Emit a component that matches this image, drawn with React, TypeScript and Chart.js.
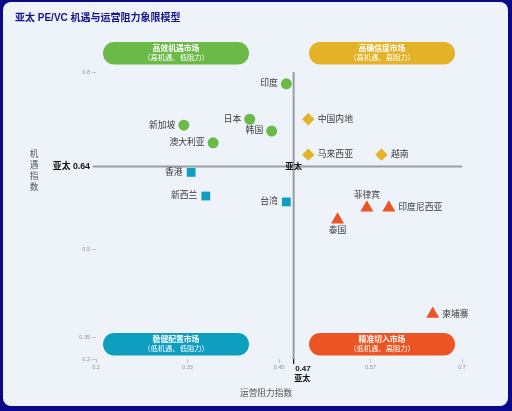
import React, { useEffect, useRef } from 'react';
import { Chart, registerables } from 'chart.js';

Chart.register(...registerables);

const FONT = "'Liberation Sans', 'Noto Sans CJK SC', sans-serif";

// ---- Data ----
const chartTitle = '亚太 PE/VC 机遇与运营阻力象限模型';
const xAxisTitle = '运营阻力指数';
const yAxisTitle = '机遇指数';
const benchmarkName = '亚太';

const highOppLowResNames = ['印度', '日本', '韩国', '新加坡', '澳大利亚'];
const highOppLowResX = [0.46, 0.41, 0.44, 0.32, 0.36];
const highOppLowResY = [0.78, 0.72, 0.7, 0.71, 0.68];

const lowOppLowResNames = ['香港', '新西兰', '台湾'];
const lowOppLowResX = [0.33, 0.35, 0.46];
const lowOppLowResY = [0.63, 0.59, 0.58];

const highOppHighResNames = ['中国内地', '马来西亚', '越南'];
const highOppHighResX = [0.49, 0.49, 0.59];
const highOppHighResY = [0.72, 0.66, 0.66];

const lowOppHighResNames = ['菲律宾', '印度尼西亚', '泰国', '柬埔寨'];
const lowOppHighResX = [0.57, 0.6, 0.53, 0.66];
const lowOppHighResY = [0.57, 0.57, 0.55, 0.39];

const benchmarkX = 0.47;
const benchmarkY = 0.64;

const xTickValues = [0.2, 0.325, 0.45, 0.575, 0.7];
const xTickLabels = ['0.2', '0.33', '0.45', '0.57', '0.7'];
const yTickValues = [0.314, 0.35, 0.5, 0.64, 0.8];
const yTickLabels = ['0.2', '0.35', '0.5', '亚太 0.64', '0.8'];

const quadrantTitles = ['高效机遇市场', '高确信度市场', '稳健配置市场', '精准切入市场'];
const quadrantSubtitles = ['（高机遇、低阻力）', '（高机遇、高阻力）', '（低机遇、低阻力）', '（低机遇、高阻力）'];

// ---- Styles ----
const GREEN = '#6bb946';
const YELLOW = '#e3b226';
const TEAL = '#0d9ec0';
const ORANGE = '#ec5424';
const quadrantColors = [GREEN, YELLOW, TEAL, ORANGE];
const labelSideOverride: Record<string, string> = { 菲律宾: 'top', 泰国: 'bottom' };

const toPoints = (xs: number[], ys: number[]) => xs.map((x, i) => ({ x, y: ys[i] }));

function roundRect(ctx: CanvasRenderingContext2D, x: number, y: number, w: number, h: number, r: number) {
  ctx.beginPath();
  ctx.moveTo(x + r, y);
  ctx.lineTo(x + w - r, y);
  ctx.arc(x + w - r, y + r, r, -Math.PI / 2, Math.PI / 2);
  ctx.lineTo(x + r, y + h);
  ctx.arc(x + r, y + r, r, Math.PI / 2, (3 * Math.PI) / 2);
  ctx.closePath();
}

const quadrantPlugin = {
  id: 'quadrant',
  beforeDatasetsDraw(chart: any) {
    const { ctx, chartArea: a, scales } = chart;
    const px = scales.x.getPixelForValue(benchmarkX);
    const py = scales.y.getPixelForValue(benchmarkY);
    ctx.save();
    ctx.strokeStyle = '#9a9ca4';
    ctx.lineWidth = 2;
    ctx.beginPath();
    ctx.moveTo(a.left - 3, py);
    ctx.lineTo(a.right, py);
    ctx.stroke();
    ctx.beginPath();
    ctx.moveTo(px, a.top);
    ctx.lineTo(px, a.bottom);
    ctx.stroke();
    ctx.strokeStyle = '#111';
    ctx.lineWidth = 1.2;
    ctx.beginPath();
    ctx.moveTo(px, a.bottom);
    ctx.lineTo(px, a.bottom + 5);
    ctx.stroke();
    ctx.restore();
  },
  afterDatasetsDraw(chart: any) {
    const { ctx, chartArea: a, scales } = chart;
    const px = scales.x.getPixelForValue(benchmarkX);
    const py = scales.y.getPixelForValue(benchmarkY);
    ctx.save();

    // point labels
    ctx.font = `8.8px ${FONT}`;
    ctx.fillStyle = '#3a3a3a';
    ctx.textBaseline = 'middle';
    chart.data.datasets.forEach((ds: any, i: number) => {
      const meta = chart.getDatasetMeta(i);
      meta.data.forEach((el: any, j: number) => {
        const name = ds.names[j];
        const side = labelSideOverride[name] || ds.labelSide;
        if (side === 'left') {
          ctx.textAlign = 'right';
          ctx.fillText(name, el.x - 8.5, el.y);
        } else if (side === 'right') {
          ctx.textAlign = 'left';
          ctx.fillText(name, el.x + 9.5, el.y);
        } else if (side === 'top') {
          ctx.textAlign = 'center';
          ctx.fillText(name, el.x, el.y - 12.5);
        } else {
          ctx.textAlign = 'center';
          ctx.fillText(name, el.x, el.y + 10.6);
        }
      });
    });

    // quadrant pills
    const gap = 60;
    const inset = 7;
    const w = (a.right - a.left - gap) / 2 - inset;
    const h = 22.5;
    const xs = [a.left + inset, a.right - inset - w];
    const ys = [a.top - 30, a.bottom - 26];
    for (let q = 0; q < 4; q++) {
      const bx = xs[q % 2];
      const by = ys[Math.floor(q / 2)];
      ctx.fillStyle = quadrantColors[q];
      roundRect(ctx, bx, by, w, h, h / 2);
      ctx.fill();
      ctx.fillStyle = '#ffffff';
      ctx.textAlign = 'center';
      ctx.textBaseline = 'middle';
      ctx.font = `bold 7.8px ${FONT}`;
      ctx.fillText(quadrantTitles[q], bx + w / 2, by + 7.3);
      ctx.font = `7.3px ${FONT}`;
      ctx.fillText(quadrantSubtitles[q], bx + w / 2, by + 15.8);
    }

    // benchmark labels
    ctx.fillStyle = '#111';
    ctx.font = `bold 8.3px ${FONT}`;
    ctx.textAlign = 'center';
    ctx.textBaseline = 'middle';
    ctx.fillText(benchmarkName, px, py + 0.5);
    ctx.textAlign = 'left';
    ctx.font = `bold 8px ${FONT}`;
    ctx.fillText(benchmarkX.toFixed(2), px + 1.5, a.bottom + 9.5);
    ctx.fillText(benchmarkName, px + 0.5, a.bottom + 19.7);

    // axis titles
    ctx.fillStyle = '#555';
    ctx.font = `8.7px ${FONT}`;
    ctx.textAlign = 'center';
    ctx.fillText(xAxisTitle, 266, a.bottom + 35);
    const chars = Array.from(yAxisTitle);
    chars.forEach((c, k) => {
      ctx.fillText(c, 34, py - 12 + k * 11);
    });

    // chart title
    ctx.fillStyle = '#14148c';
    ctx.font = `bold 10px ${FONT}`;
    ctx.textAlign = 'left';
    ctx.fillText(chartTitle, 15, 18.7);
    ctx.restore();
  },
};

export default function App() {
  const canvasRef = useRef<HTMLCanvasElement | null>(null);

  useEffect(() => {
    const canvas = canvasRef.current;
    if (!canvas) return;
    const isBench = (v: number, b: number) => Math.abs(v - b) < 1e-9;
    const chart = new Chart(canvas, {
      type: 'scatter',
      data: {
        datasets: [
          {
            label: 'high-opp-low-res',
            data: toPoints(highOppLowResX, highOppLowResY),
            names: highOppLowResNames,
            labelSide: 'left',
            pointStyle: 'circle',
            pointRadius: 5.5,
            pointHoverRadius: 5.5,
            backgroundColor: GREEN,
            borderWidth: 0,
          },
          {
            label: 'low-opp-low-res',
            data: toPoints(lowOppLowResX, lowOppLowResY),
            names: lowOppLowResNames,
            labelSide: 'left',
            pointStyle: 'rect',
            pointRadius: 6.2,
            pointHoverRadius: 6.2,
            backgroundColor: TEAL,
            borderWidth: 0,
          },
          {
            label: 'high-opp-high-res',
            data: toPoints(highOppHighResX, highOppHighResY),
            names: highOppHighResNames,
            labelSide: 'right',
            pointStyle: 'rectRot',
            pointRadius: 6.2,
            pointHoverRadius: 6.2,
            backgroundColor: YELLOW,
            borderWidth: 0,
          },
          {
            label: 'low-opp-high-res',
            data: toPoints(lowOppHighResX, lowOppHighResY),
            names: lowOppHighResNames,
            labelSide: 'right',
            pointStyle: 'triangle',
            pointRadius: 7.5,
            pointHoverRadius: 7.5,
            backgroundColor: ORANGE,
            borderWidth: 0,
          },
        ] as any,
      },
      options: {
        responsive: false,
        animation: false,
        events: [],
        layout: { padding: { top: 72, right: 50, left: 0, bottom: 0 } },
        plugins: { legend: { display: false }, tooltip: { enabled: false } },
        scales: {
          x: {
            type: 'linear',
            min: 0.2,
            max: 0.7,
            afterFit: (s: any) => {
              s.height = 52;
            },
            afterBuildTicks: (s: any) => {
              s.ticks = xTickValues.map((v) => ({ value: v }));
            },
            border: { display: false },
            grid: { drawOnChartArea: false, drawTicks: true, tickLength: 4, color: '#b4b6bd', lineWidth: 0.8 },
            ticks: {
              autoSkip: false,
              maxRotation: 0,
              padding: 1,
              color: '#8e9096',
              font: { family: FONT, size: 5.5 },
              callback: (_v: any, i: number) => xTickLabels[i],
            },
          },
          y: {
            type: 'linear',
            min: yTickValues[0],
            max: 0.8,
            afterFit: (s: any) => {
              s.width = 96;
            },
            afterBuildTicks: (s: any) => {
              s.ticks = yTickValues.map((v) => ({ value: v }));
            },
            border: { display: false },
            grid: { drawOnChartArea: false, drawTicks: true, tickLength: 4, color: '#b4b6bd', lineWidth: 0.8 },
            ticks: {
              autoSkip: false,
              padding: 2,
              color: (c: any) => (c.tick && isBench(c.tick.value, benchmarkY) ? '#111' : '#8e9096'),
              font: (c: any) =>
                c.tick && isBench(c.tick.value, benchmarkY)
                  ? { family: FONT, size: 8.8, weight: 'bold' }
                  : { family: FONT, size: 5.5 },
              callback: (_v: any, i: number) => yTickLabels[i],
            },
          },
        },
      } as any,
      plugins: [quadrantPlugin],
    });
    return () => chart.destroy();
  }, []);

  return (
    <div style={{ position: 'fixed', left: 0, top: 0, width: 512, height: 411, background: '#0a0a88', overflow: 'hidden' }}>
      <div
        style={{
          position: 'absolute',
          left: 3,
          top: 2,
          width: 505,
          height: 404,
          borderRadius: 8,
          background: '#eef2f9',
        }}
      />
      <canvas ref={canvasRef} width={512} height={411} style={{ position: 'absolute', left: 0, top: 0, width: 512, height: 411 }} />
    </div>
  );
}
